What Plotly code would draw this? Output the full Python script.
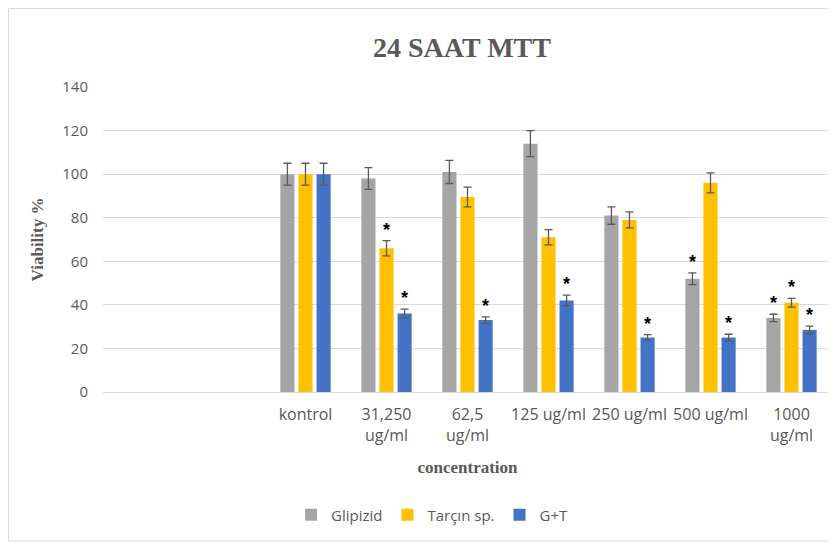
import plotly.graph_objects as go

# data
categories = [" ", "  ", "kontrol", "31,250<br>ug/ml", "62,5<br>ug/ml",
              "125 ug/ml", "250 ug/ml", "500 ug/ml", "1000<br>ug/ml"]
series_names = ["Glipizid", "Tarçın sp.", "G+T"]

glipizid = [None, None, 100, 98, 101, 114, 81, 52, 34]
tarcin = [None, None, 100, 66, 89.5, 71, 79, 96, 41]
g_t = [None, None, 100, 36, 33, 42, 25, 25, 28.5]

glipizid_err = [0, 0, 5, 5, 5.3, 6, 4, 2.7, 1.7]
tarcin_err = [0, 0, 5, 3.5, 4.5, 3.5, 3.7, 4.6, 2]
g_t_err = [0, 0, 5, 2, 1.5, 2.5, 1.3, 1.5, 1.7]

glipizid_star = [0, 0, 0, 0, 0, 0, 0, 1, 1]
tarcin_star = [0, 0, 0, 1, 0, 0, 0, 0, 1]
g_t_star = [0, 0, 0, 1, 1, 1, 1, 1, 1]

COLORS = ["#A5A5A5", "#FFC000", "#4472C4"]
TEXT_GRAY = "#595959"

# the page puts the figure 8px in from the top-left corner
OFF = 8
W, H = 836 - OFF, 545 - OFF
PLOT_L, PLOT_R, PLOT_T, PLOT_B = 103 - OFF, 832 - OFF, 87 - OFF, 392 - OFF
MARGIN = dict(l=PLOT_L, r=W - PLOT_R, t=PLOT_T, b=H - PLOT_B)
BARGAP = 0.33

values = [glipizid, tarcin, g_t]
errors = [glipizid_err, tarcin_err, g_t_err]
stars = [glipizid_star, tarcin_star, g_t_star]

fig = go.Figure()
for name, vals, errs, color in zip(series_names, values, errors, COLORS):
    fig.add_trace(go.Bar(
        x=categories,
        y=vals,
        name=name,
        marker=dict(color=color, line=dict(width=0)),
        error_y=dict(type="data", array=errs, color="#595959",
                     thickness=1.3, width=4),
    ))

# significance stars above the error bars
plot_w = PLOT_R - PLOT_L
plot_h = PLOT_B - PLOT_T
cat_w = plot_w / len(categories)
slot = cat_w * (1 - BARGAP) / len(series_names)
for i, (vals, errs, flags) in enumerate(zip(values, errors, stars)):
    for cat, v, e, f in zip(categories, vals, errs, flags):
        if f and v is not None:
            fig.add_annotation(
                x=cat, y=v + e, text="<b>*</b>", showarrow=False,
                xshift=(i - 1) * slot, yshift=11,
                yanchor="middle",
                font=dict(family="Liberation Sans", size=18, color="black"),
            )

fig.update_layout(
    width=W,
    height=H,
    margin=MARGIN,
    paper_bgcolor="white",
    plot_bgcolor="white",
    barmode="group",
    bargap=BARGAP,
    bargroupgap=0.22,
    title=dict(
        text="<b>24 SAAT MTT</b>",
        x=(462 - 103) / plot_w,
        xref="paper",
        xanchor="center",
        y=1 - (47 - OFF) / H,
        yanchor="middle",
        font=dict(family="Liberation Serif", size=28, color=TEXT_GRAY),
    ),
    font=dict(family="Open Sans", size=14, color=TEXT_GRAY),
    legend=dict(
        orientation="h",
        x=(432 - 103) / plot_w,
        xanchor="center",
        y=-(515 - 392) / plot_h,
        yanchor="middle",
        font=dict(family="Open Sans", size=15, color=TEXT_GRAY),
        itemwidth=30,
        traceorder="normal",
    ),
    showlegend=True,
)

fig.update_xaxes(
    type="category",
    categoryorder="array",
    categoryarray=categories,
    showgrid=False,
    showline=False,
    zeroline=False,
    ticks="",
    ticklabelstandoff=11,
    tickfont=dict(family="Open Sans", size=16, color=TEXT_GRAY),
    title=dict(
        text="<b>concentration</b>",
        standoff=16,
        font=dict(family="Liberation Serif", size=17, color=TEXT_GRAY),
    ),
)

fig.update_yaxes(
    range=[0, 140],
    dtick=20,
    showgrid=True,
    gridcolor="#D9D9D9",
    gridwidth=1,
    zeroline=True,
    zerolinecolor="#D9D9D9",
    zerolinewidth=1,
    showline=False,
    ticks="",
    ticklabelstandoff=14,
    tickfont=dict(family="Open Sans", size=15, color=TEXT_GRAY),
    title=dict(
        text="<b>Viability %</b>",
        standoff=14,
        font=dict(family="Liberation Serif", size=17, color=TEXT_GRAY),
    ),
)

# light frame along the left, top and bottom edges
frame = dict(type="line", xref="paper", yref="paper",
             line=dict(color="#D9D9D9", width=1))
x0 = -(PLOT_L - 0.5) / plot_w
y_top = 1 + (PLOT_T - 0.5) / plot_h
y_bot = -(541 - 392) / plot_h
fig.add_shape(**frame, x0=x0, x1=1.02, y0=y_top, y1=y_top)
fig.add_shape(**frame, x0=x0, x1=x0, y0=y_bot, y1=y_top)
fig.add_shape(**frame, x0=x0, x1=1.02, y0=y_bot, y1=y_bot)

fig.write_html("out.html")
